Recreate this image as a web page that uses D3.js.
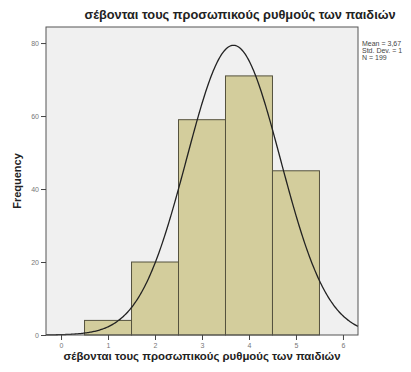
<!DOCTYPE html>
<html>
<head>
<meta charset="utf-8">
<script src="https://cdn.jsdelivr.net/npm/d3@7"></script>
<style>
  body { margin: 0; background: #fff; }
  svg { font-family: Arial, "Liberation Sans", sans-serif; }
</style>
</head>
<body>
<svg id="chart" width="411" height="372"></svg>
<script>
// histogram bins (centre value) and counts
const bins = [1, 2, 3, 4, 5];
const counts = [4, 20, 59, 71, 45];
const yTicks = [0, 20, 40, 60, 80];
const xTicks = [0, 1, 2, 3, 4, 5, 6];
const mean = 3.67, sd = 1, n = 199;
const statLines = ["Mean = 3,67", "Std. Dev. = 1", "N = 199"];
const title = "σέβονται τους προσωπικούς ρυθμούς των παιδιών";

const svg = d3.select("#chart");
const plot = { left: 46, right: 358, top: 27, bottom: 335 };

const x = d3.scaleLinear().domain([-0.32, 6.32]).range([plot.left, plot.right]);
const y = d3.scaleLinear().domain([0, 84.4]).range([plot.bottom, plot.top]);

// plot background
svg.append("rect")
  .attr("x", plot.left).attr("y", plot.top)
  .attr("width", plot.right - plot.left).attr("height", plot.bottom - plot.top)
  .attr("fill", "#f0f0f0");

// bars
svg.selectAll("rect.bar")
  .data(bins)
  .enter()
  .append("rect")
  .attr("class", "bar")
  .attr("x", d => x(d - 0.5))
  .attr("y", (d, i) => y(counts[i]))
  .attr("width", d => x(d + 0.5) - x(d - 0.5))
  .attr("height", (d, i) => y(0) - y(counts[i]))
  .attr("fill", "#d3cd9c")
  .attr("stroke", "#55523e")
  .attr("stroke-width", 1);

// normal curve, scaled to counts (bin width 1)
const curve = d3.range(-0.32, 6.33, 0.02).map(v => [v,
  n / (sd * Math.sqrt(2 * Math.PI)) * Math.exp(-0.5 * Math.pow((v - mean) / sd, 2))]);
svg.append("path")
  .datum(curve)
  .attr("d", d3.line().x(d => x(d[0])).y(d => y(d[1])))
  .attr("fill", "none")
  .attr("stroke", "#222")
  .attr("stroke-width", 1.3);

// frame
svg.append("rect")
  .attr("x", plot.left).attr("y", plot.top)
  .attr("width", plot.right - plot.left).attr("height", plot.bottom - plot.top)
  .attr("fill", "none")
  .attr("stroke", "#555")
  .attr("stroke-width", 1);

// axes
const fmt = d3.format("d");
const yAxis = d3.axisLeft(y).tickValues(yTicks).tickFormat(fmt).tickSize(5).tickPadding(2);
const gy = svg.append("g").attr("transform", `translate(${plot.left},0)`).call(yAxis);
const xAxis = d3.axisBottom(x).tickValues(xTicks).tickFormat(fmt).tickSize(5).tickPadding(3);
const gx = svg.append("g").attr("transform", `translate(0,${plot.bottom})`).call(xAxis);
[gy, gx].forEach(g => {
  g.select(".domain").remove();
  g.selectAll("line").attr("stroke", "#444");
  g.selectAll("text").attr("fill", "#777").attr("font-size", 7).attr("font-family", "Arial, sans-serif");
});

// titles
svg.append("text")
  .attr("x", 240).attr("y", 19)
  .attr("text-anchor", "middle")
  .attr("font-size", 12.8).attr("font-weight", "bold")
  .attr("fill", "#222")
  .text(title);

svg.append("text")
  .attr("x", 202).attr("y", 360)
  .attr("text-anchor", "middle")
  .attr("font-size", 11.4).attr("font-weight", "bold")
  .attr("fill", "#222")
  .text(title);

svg.append("text")
  .attr("transform", "translate(21,181) rotate(-90)")
  .attr("text-anchor", "middle")
  .attr("font-size", 11).attr("font-weight", "bold")
  .attr("fill", "#222")
  .text("Frequency");

// stats legend
svg.append("g")
  .selectAll("text")
  .data(statLines)
  .enter()
  .append("text")
  .attr("x", 362)
  .attr("y", (d, i) => 46 + i * 7)
  .attr("font-size", 7)
  .attr("fill", "#444")
  .text(d => d);
</script>
</body>
</html>
